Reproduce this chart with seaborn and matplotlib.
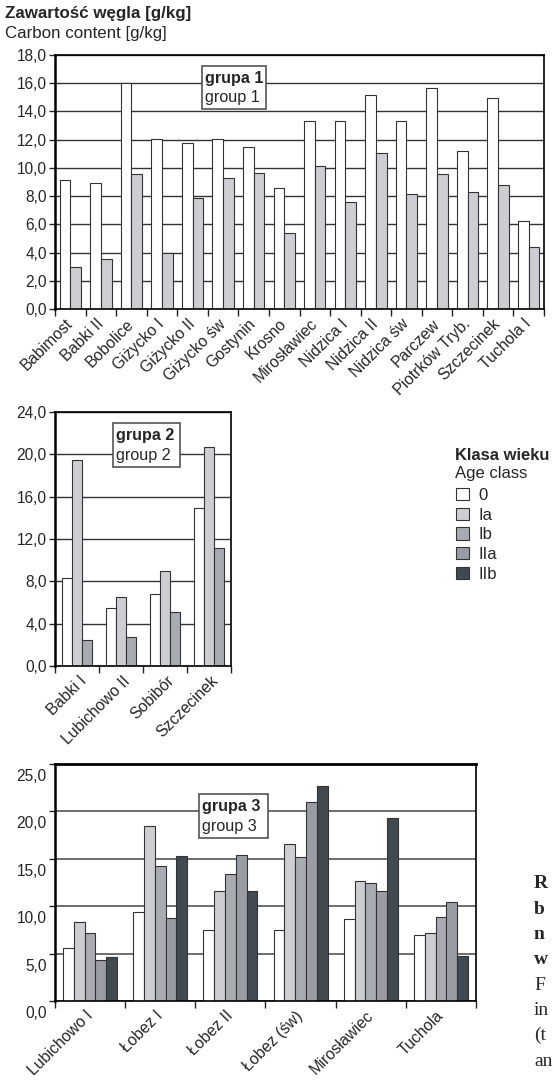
import matplotlib
matplotlib.use("Agg")
import matplotlib.pyplot as plt
import seaborn as sns
import pandas as pd
from matplotlib.patches import Rectangle
from matplotlib.transforms import ScaledTranslation

# age classes and their fill colours
AGE_CLASSES = ["0", "Ia", "Ib", "IIa", "IIb"]
AGE_COLORS = ["#ffffff", "#cdcdd2", "#a9abb2", "#9a9ca4", "#414a50"]

# group 1
G1_SITES = ["Babimost", "Babki II", "Bobolice", "Giżycko I", "Giżycko II", "Giżycko św",
            "Gostynin", "Krosno", "Mirosławiec", "Nidzica I", "Nidzica II", "Nidzica św",
            "Parczew", "Piotrków Tryb.", "Szczecinek", "Tuchola I"]
G1_0 = [9.15, 8.9, 16.05, 12.05, 11.75, 12.05, 11.5, 8.55, 13.35, 13.3, 15.15, 13.3,
        15.65, 11.2, 14.95, 6.25]
G1_IA = [2.95, 3.55, 9.55, 3.95, 7.85, 9.25, 9.65, 5.4, 10.1, 7.55, 11.05, 8.15,
         9.6, 8.3, 8.8, 4.4]
G1_YTICKS = [0, 2, 4, 6, 8, 10, 12, 14, 16, 18]

# group 2
G2_SITES = ["Babki I", "Lubichowo II", "Sobibór", "Szczecinek"]
G2_0 = [8.35, 5.5, 6.8, 14.95]
G2_IA = [19.45, 6.5, 9.0, 20.7]
G2_IB = [2.5, 2.75, 5.1, 11.15]
G2_YTICKS = [0, 4, 8, 12, 16, 20, 24]

# group 3
G3_SITES = ["Lubichowo I", "Łobez I", "Łobez II", "Łobez (św)", "Mirosławiec", "Tuchola"]
G3_0 = [5.6, 9.4, 7.45, 7.45, 8.7, 6.95]
G3_IA = [8.3, 18.5, 11.6, 16.55, 12.7, 7.15]
G3_IB = [7.15, 14.2, 13.35, 15.2, 12.5, 8.9]
G3_IIA = [4.3, 8.8, 15.35, 21.0, 11.6, 10.45]
G3_IIB = [4.65, 15.25, 11.6, 22.7, 19.35, 4.75]
G3_YTICKS = [0, 5, 10, 15, 20, 25]

# caption fragments at the right page edge
CAPTION = [("R", "bold"), ("b", "bold"), ("n", "bold"), ("w", "bold"),
           ("F", "normal"), ("in", "normal"), ("(t", "normal"), ("an", "normal")]

sns.set_theme(style="white")
plt.rcParams["font.family"] = ["Liberation Sans", "DejaVu Sans"]

W, H = 553, 1091
fig = plt.figure(figsize=(W / 100, H / 100), dpi=100)
pal = dict(zip(AGE_CLASSES, AGE_COLORS))


def px_axes(left, top, right, bottom):
    return fig.add_axes([left / W, 1 - bottom / H, (right - left) / W, (bottom - top) / H])


def long_table(sites, series):
    rows = []
    for klasa, vals in series.items():
        for s, v in zip(sites, vals):
            rows.append({"site": s, "klasa": klasa, "value": v})
    return pd.DataFrame(rows)


def comma(v):
    return f"{v:.1f}".replace(".", ",")


def draw_panel(ax, sites, series, width, yticks, box, title, legend=False):
    df = long_table(sites, series)
    classes = list(series.keys())
    sns.barplot(data=df, x="site", y="value", hue="klasa", hue_order=classes,
                palette=pal, saturation=1, width=width, edgecolor="#333333",
                linewidth=0.8, errorbar=None, legend=legend, ax=ax)
    n = len(sites)
    ax.set_xlim(-0.5, n - 0.5)
    ax.set_ylim(0, yticks[-1])
    ax.set_yticks(yticks, labels=[comma(t) for t in yticks])
    ax.set_xticks(range(n), labels=sites)
    ax.set_xticks([i - 0.5 for i in range(n + 1)], minor=True)
    ax.tick_params(axis="x", which="major", length=0, pad=9, labelsize=11.4)
    ax.tick_params(axis="x", which="minor", length=5, width=1, color="#222", direction="out", bottom=True)
    ax.tick_params(axis="y", length=4, width=1, color="#222", direction="out", left=True,
                   labelsize=11.2, pad=2)
    for lbl in ax.get_xticklabels():
        lbl.set_rotation(45)
        lbl.set_ha("right")
        lbl.set_va("center")
        lbl.set_rotation_mode("anchor")
    ax.set_xlabel("")
    ax.set_ylabel("")
    ax.yaxis.grid(True, color="#333333", lw=1.0)
    ax.set_axisbelow(True)
    for sp in ax.spines.values():
        sp.set_visible(True)
        sp.set_color("black")
        sp.set_linewidth(1.2)
    ax.spines["left"].set_linewidth(1.8)
    x0, y0, x1, y1 = box
    ax.add_patch(Rectangle((x0, y1), x1 - x0, y0 - y1, transform=ax.transAxes,
                           facecolor="white", edgecolor="#555555", lw=1.2, zorder=5))
    pad = 3 / (ax.get_position().width * W)
    ax.text(x0 + pad, y0 - (y0 - y1) * 0.29, title[0], transform=ax.transAxes,
            fontsize=11.6, fontweight="bold", va="center", ha="left", zorder=6)
    ax.text(x0 + pad, y0 - (y0 - y1) * 0.74, title[1], transform=ax.transAxes,
            fontsize=11.6, va="center", ha="left", zorder=6)


ax1 = px_axes(55, 55, 544, 309)
draw_panel(ax1, G1_SITES, {"0": G1_0, "Ia": G1_IA}, 0.70, G1_YTICKS,
           (0.301, 0.957, 0.431, 0.787), ("grupa 1", "group 1"))

ax2 = px_axes(55, 412, 231, 666)
draw_panel(ax2, G2_SITES, {"0": G2_0, "Ia": G2_IA, "Ib": G2_IB}, 0.70, G2_YTICKS,
           (0.331, 0.957, 0.711, 0.783), ("grupa 2", "group 2"))
for lbl in ax2.get_xticklabels():
    lbl.set_transform(lbl.get_transform() + ScaledTranslation(0.07, 0, fig.dpi_scale_trans))

ax3 = px_axes(55, 764, 476, 1001)
draw_panel(ax3, G3_SITES, {"0": G3_0, "Ia": G3_IA, "Ib": G3_IB, "IIa": G3_IIA, "IIb": G3_IIB},
           0.77, G3_YTICKS, (0.342, 0.873, 0.505, 0.688), ("grupa 3", "group 3"), legend=True)
ax3.yaxis.grid(True, color="#555555", lw=1.2)
ax3.spines["top"].set_linewidth(2.0)
for lbl in ax3.get_yticklabels():
    lbl.set_transform(lbl.get_transform() + ScaledTranslation(0, -0.11, fig.dpi_scale_trans))

# legend moved next to panel 2
leg = ax3.get_legend()
handles = leg.legend_handles
labels = [t.get_text() for t in leg.get_texts()]
leg.remove()
fig.legend(handles, labels, loc="upper left", bbox_to_anchor=(456 / W, 1 - 488 / H),
           frameon=False, fontsize=12, handlelength=0.75, handleheight=0.75,
           handletextpad=0.6, labelspacing=0.28, borderpad=0, borderaxespad=0)
fig.text(455 / W, 1 - 460 / H, "Klasa wieku", fontsize=11.9, fontweight="bold", va="baseline")
fig.text(455 / W, 1 - 478 / H, "Age class", fontsize=12, va="baseline")

# axis titles
fig.text(5 / W, 1 - 18 / H, "Zawartość węgla [g/kg]", fontsize=12.2, fontweight="bold", va="baseline")
fig.text(5 / W, 1 - 38 / H, "Carbon content [g/kg]", fontsize=12.2, va="baseline")

for i, (s, wt) in enumerate(CAPTION):
    fig.text(534 / W, 1 - (884 + 25.3 * i) / H, s, fontsize=14, fontweight=wt,
             family="Liberation Serif", va="center", ha="left")

fig.savefig("out.png", dpi=100)
